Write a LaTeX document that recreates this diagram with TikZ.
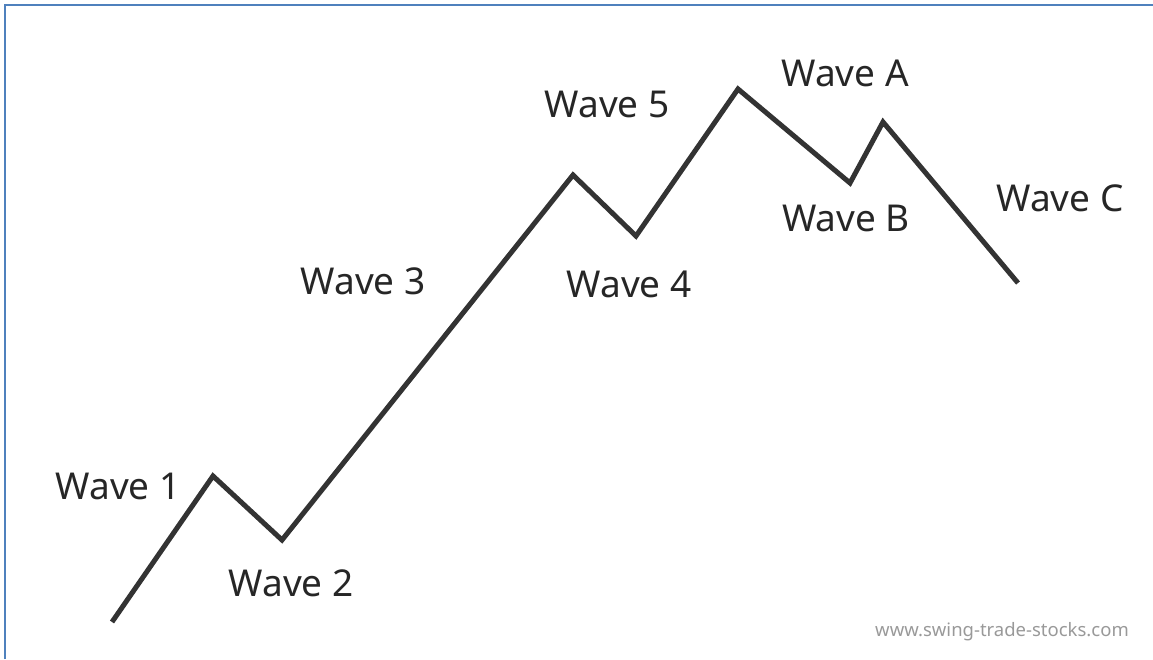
\documentclass[tikz,border=0pt]{standalone}
\usepackage{fontspec}
\setmainfont{Noto Sans}
\definecolor{FrameBlue}{HTML}{4F81BD}
\definecolor{WaveGray}{HTML}{333333}

\begin{document}
\begin{tikzpicture}[x=1pt, y=-1pt]
        \useasboundingbox (0,0) rectangle (1153,659);
        \draw[FrameBlue, line width=2.2pt] (5,659) -- (5,5) -- (1153,5);
        \foreach \n/\x/\y in {s/112/622, p1/213/476, p2/282/540, p5/573/175, p4/636/236, pa/738/89, pb/850/183, pc/883/122, e/1018/283} {
            \coordinate (\n) at (\x,\y);
        }
        \draw[WaveGray, line width=5pt] (s) -- (p1) -- (p2) -- (p5) -- (p4) -- (pa) -- (pb) -- (pc) -- (e);
        \foreach \n/\x/\y/\t in {w1/118/486/Wave 1, w2/291/583/Wave 2, w3/363/281/Wave 3, w4/629/284/Wave 4, w5/607/104/Wave 5, wa/845/73/Wave A, wb/846/218/Wave B, wc/1060/198/Wave C} {
            \node[inner sep=0pt, text=black!85, font=\fontsize{37}{40}\selectfont] (\n) at (\x,\y) {\t};
        }
        \node[inner sep=0pt, text=gray!80, font=\fontsize{18.5}{20}\selectfont] (site) at (1002,632) {www.swing-trade-stocks.com};
    \end{tikzpicture}
\end{document}
